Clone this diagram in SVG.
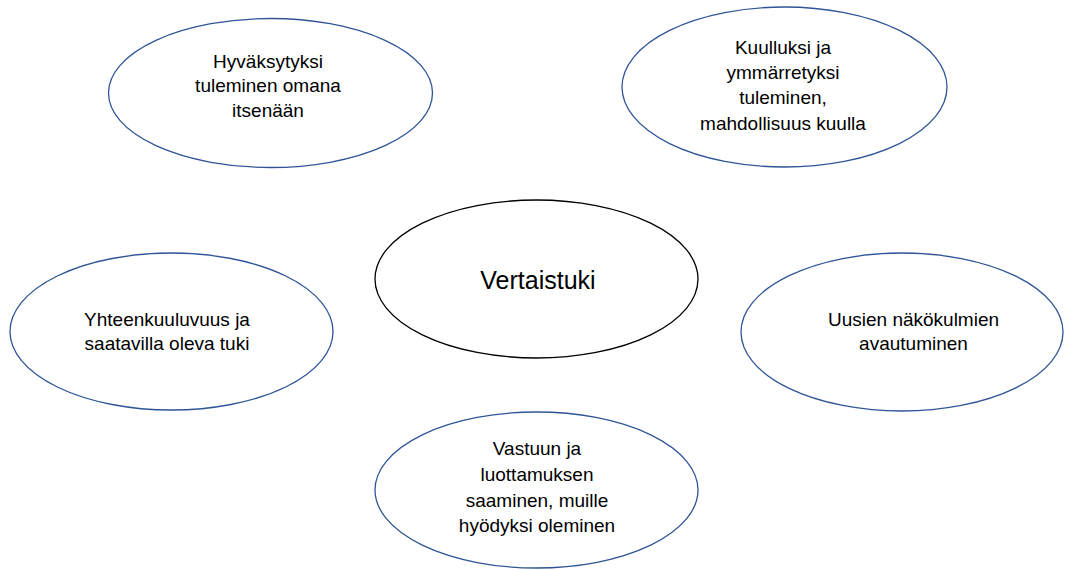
<svg xmlns="http://www.w3.org/2000/svg" width="1065" height="570" viewBox="0 0 1065 570">
<style>
.n{fill:#fff;stroke:#2F5597;stroke-width:1.3}
.c{fill:#fff;stroke:#000;stroke-width:1.3}
text{font-family:"Liberation Sans",Arial,sans-serif;fill:#000;text-anchor:middle}
.t{font-size:19px}
.big{font-size:25px}
</style>
<rect width="1065" height="570" fill="#fff"/>
<g id="connectors"/>
<g id="node-hyvaksytyksi">
<ellipse class="n" cx="270.5" cy="93" rx="162" ry="74.5"/>
<text class="t" x="268" y="68">Hyväksytyksi</text>
<text class="t" x="268" y="92">tuleminen omana</text>
<text class="t" x="268" y="116.5">itsenään</text>
</g>
<g id="node-kuulluksi">
<ellipse class="n" cx="784.5" cy="87" rx="162.5" ry="80"/>
<text class="t" x="783" y="54">Kuulluksi ja</text>
<text class="t" x="783" y="78.5">ymmärretyksi</text>
<text class="t" x="783" y="104">tuleminen,</text>
<text class="t" x="783" y="130">mahdollisuus kuulla</text>
</g>
<g id="node-vertaistuki">
<ellipse class="c" cx="536.5" cy="279" rx="161.5" ry="79"/>
<text class="big" x="538" y="289">Vertaistuki</text>
</g>
<g id="node-yhteenkuuluvuus">
<ellipse class="n" cx="171.5" cy="331.5" rx="161.5" ry="78.5"/>
<text class="t" x="167" y="326">Yhteenkuuluvuus ja</text>
<text class="t" x="167" y="350">saatavilla oleva tuki</text>
</g>
<g id="node-uusien">
<ellipse class="n" cx="902" cy="332" rx="161" ry="79"/>
<text class="t" x="913.5" y="326">Uusien näkökulmien</text>
<text class="t" x="913.5" y="350">avautuminen</text>
</g>
<g id="node-vastuun">
<ellipse class="n" cx="536.5" cy="490" rx="161.5" ry="78"/>
<text class="t" x="537" y="455">Vastuun ja</text>
<text class="t" x="537" y="481">luottamuksen</text>
<text class="t" x="537" y="507">saaminen, muille</text>
<text class="t" x="537" y="532">hyödyksi oleminen</text>
</g>
</svg>
